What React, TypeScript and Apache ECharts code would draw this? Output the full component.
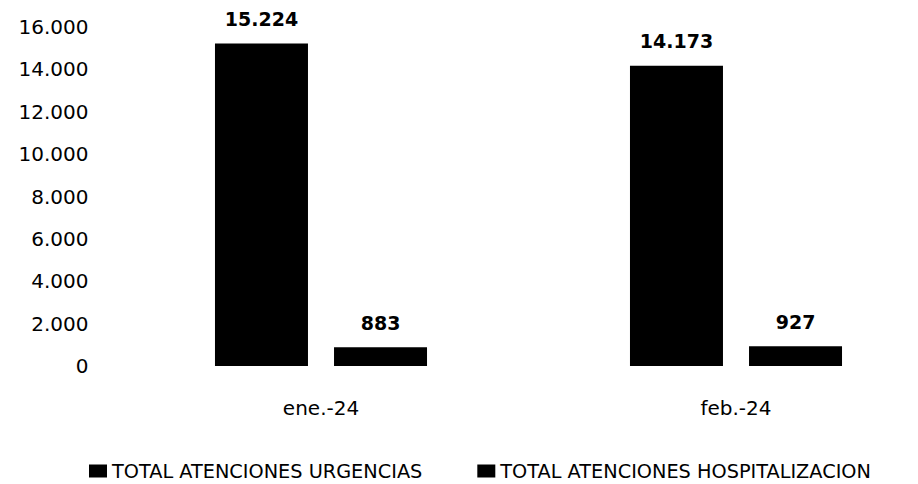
import React, { useEffect, useRef } from "react";
import * as echarts from "echarts";

const categories = ["ene.-24", "feb.-24"];
const seriesNames = ["TOTAL ATENCIONES URGENCIAS", "TOTAL ATENCIONES HOSPITALIZACION"];
const urgencias = [15224, 14173];
const hospitalizacion = [883, 927];
const yMin = 0;
const yMax = 16000;
const yInterval = 2000;

const fmt = (v: number) => String(v).replace(/\B(?=(\d{3})+(?!\d))/g, ".");

const FONT = "'DejaVu Sans', sans-serif";

export default function App() {
  const ref = useRef<HTMLDivElement>(null);
  useEffect(() => {
    if (!ref.current) return;
    const chart = echarts.init(ref.current, null, { renderer: "svg" });
    const labelStyle = {
      show: true,
      position: "top" as const,
      distance: 15,
      fontFamily: FONT,
      fontWeight: "bold" as const,
      fontSize: 19,
      color: "#000",
      formatter: (p: any) => fmt(p.value),
    };
    chart.setOption({
      animation: false,
      backgroundColor: "#fff",
      grid: {
        left: 113.5,
        top: 27,
        width: 830,
        height: 339,
        containLabel: false,
        outerBoundsMode: "none",
      },
      legend: {
        left: 89,
        top: 461,
        padding: 0,
        itemWidth: 18,
        itemHeight: 13,
        itemGap: 55,
        icon: "rect",
        textStyle: { fontFamily: FONT, fontSize: 19.3, color: "#000", lineHeight: 20 },
        data: seriesNames,
      },
      xAxis: {
        type: "category",
        data: categories,
        axisLine: { show: false },
        axisTick: { show: false },
        axisLabel: { margin: 32, fontFamily: FONT, fontSize: 20, color: "#000" },
      },
      yAxis: {
        type: "value",
        min: yMin,
        max: yMax,
        interval: yInterval,
        axisLine: { show: false },
        axisTick: { show: false },
        splitLine: { show: false },
        axisLabel: {
          margin: 25,
          fontFamily: FONT,
          fontSize: 20,
          color: "#000",
          formatter: (v: number) => fmt(v),
        },
      },
      series: [
        {
          name: seriesNames[0],
          type: "bar",
          data: urgencias,
          barWidth: 93,
          barGap: "28%",
          itemStyle: { color: "#000" },
          label: labelStyle,
        },
        {
          name: seriesNames[1],
          type: "bar",
          data: hospitalizacion,
          barWidth: 93,
          barGap: "28%",
          itemStyle: { color: "#000" },
          label: labelStyle,
        },
      ],
    });
    return () => chart.dispose();
  }, []);
  return (
    <div
      ref={ref}
      style={{ position: "fixed", left: 0, top: 0, width: 918, height: 484, background: "#fff" }}
    />
  );
}
